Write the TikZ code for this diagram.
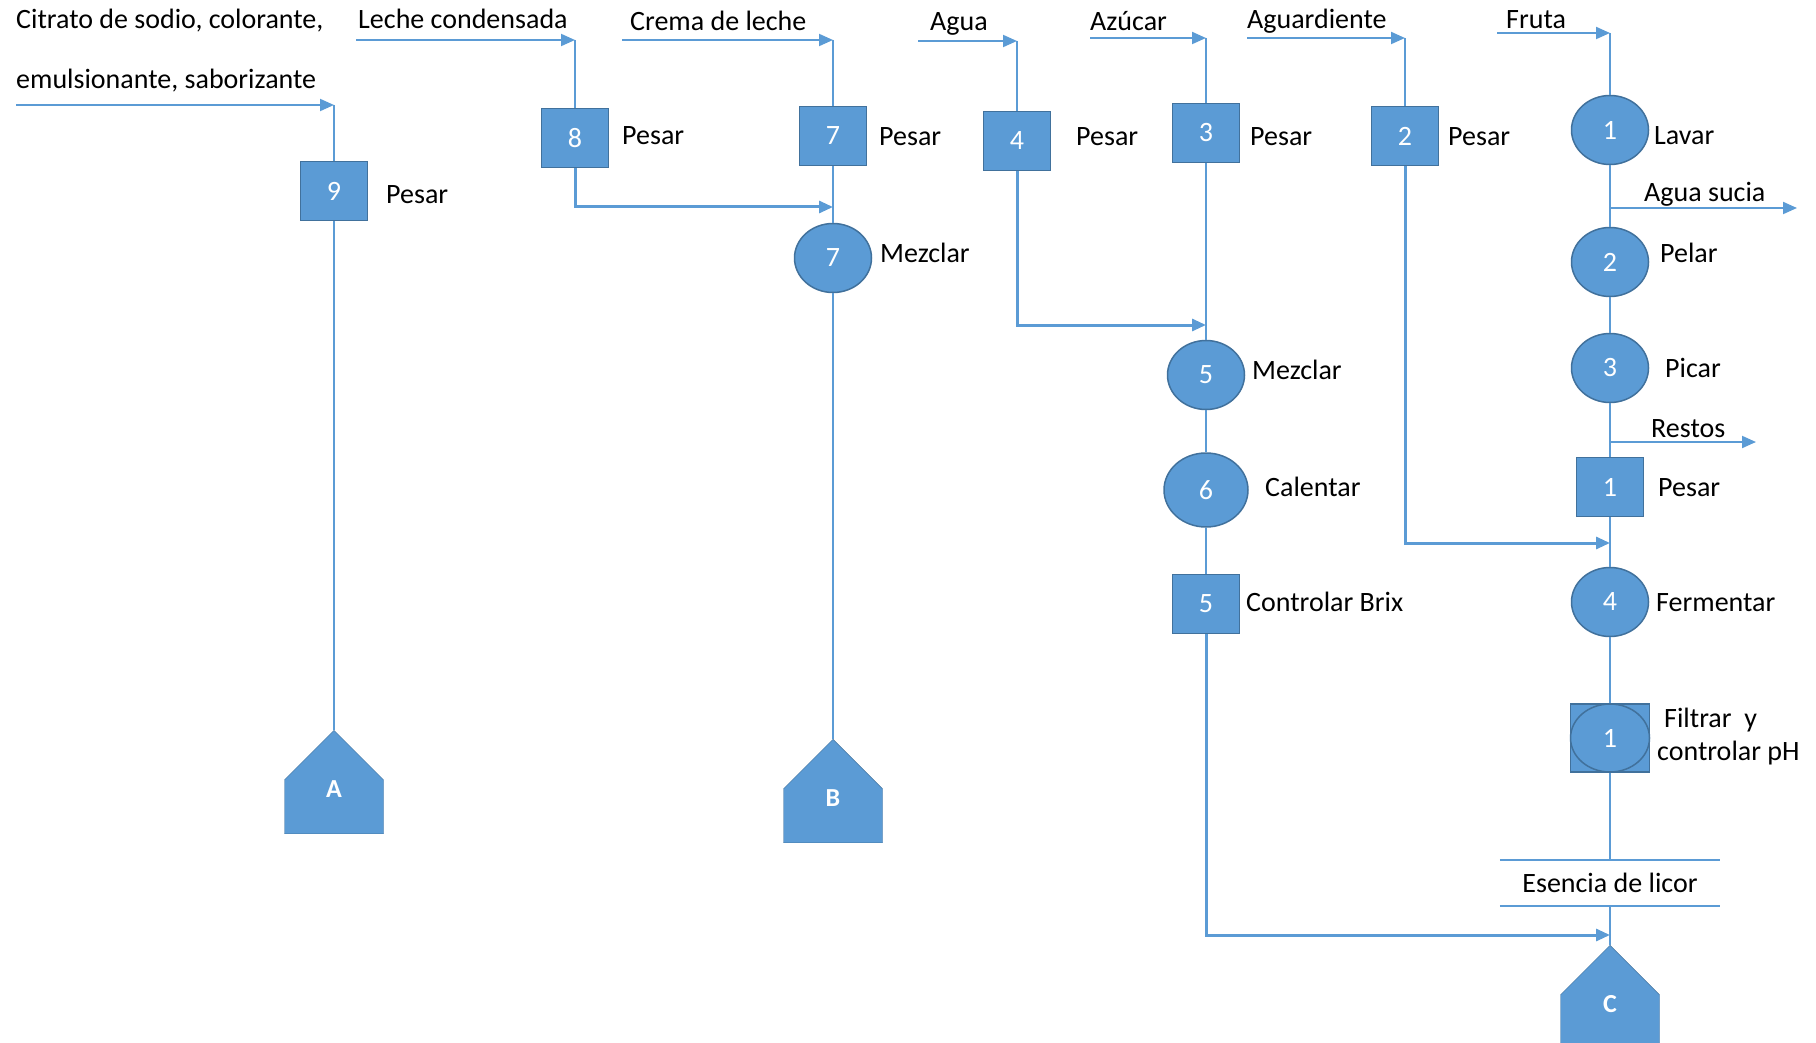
\documentclass[tikz,border=0pt]{standalone}
\usepackage{fontspec}
\setmainfont{Carlito}
\usetikzlibrary{arrows.meta,shapes.geometric,shapes.symbols}
\definecolor{azul}{HTML}{5B9BD5}
\definecolor{borde}{HTML}{41719C}
\tikzset{
  caja/.style={draw=borde, fill=azul, line width=1.5pt, text=white,
    minimum width=67pt, minimum height=59pt, inner sep=0pt},
  op/.style={ellipse, draw=borde, fill=azul, line width=1.5pt, text=white,
    minimum width=77pt, minimum height=69pt, inner sep=0pt},
  prod/.style={signal, signal to=north, signal from=nowhere, signal pointer angle=90,
    draw=borde, fill=azul, text=white, minimum width=99pt, minimum height=0pt,
    inner sep=0pt, text height=18pt, text depth=36pt,
    font=\fontsize{26}{30}\selectfont\bfseries},
  txt/.style={anchor=west, inner sep=0pt, text height=18pt, text depth=0pt},
  linea/.style={draw=azul, line width=2pt},
  entrada/.style={draw=azul, line width=2pt, -{Triangle[length=14pt,width=12pt]}},
  flecha/.style={draw=azul, line width=3pt, -{Triangle[length=14pt,width=12pt]}},
}
\begin{document}
\begin{tikzpicture}[x=1pt, y=-1pt, font=\fontsize{28}{33}\selectfont]
\useasboundingbox (0,0) rectangle (1816,1043);
% operaciones
\node[caja] (p9) at (334,191) {9};
\node[caja] (p8) at (575,138) {8};
\node[caja] (p7) at (833,136) {7};
\node[op] (m7) at (833,258) {7};
\node[caja] (p4) at (1017,141) {4};
\node[caja] (p3) at (1206,133) {3};
\node[op] (m5) at (1206,375) {5};
\node[op, minimum width=84pt, minimum height=74pt] (c6) at (1206,490) {6};
\node[caja] (p5) at (1206,604) {5};
\node[caja] (p2) at (1405,136) {2};
\node[op] (o1) at (1610,130) {1};
\node[op] (o2) at (1610,262) {2};
\node[op] (o3) at (1610,368) {3};
\node[caja] (p1) at (1610,487) {1};
\node[op] (o4) at (1610,602) {4};
\node[caja, minimum width=79pt, minimum height=68pt] (f1) at (1610,738) {};
\node[op, minimum width=79pt, minimum height=68pt] (f1c) at (f1) {1};
\node[inner sep=0pt, minimum width=220pt, minimum height=45pt] (es) at (1610,883) {Esencia de licor};
\node[prod, anchor=north] (A) at (334,730) {A};
\node[prod, anchor=north] (B) at (833,739) {B};
\node[prod, anchor=north] (C) at (1610,945) {C};
% entradas
\coordinate (s9) at (16,105);   \coordinate (k9) at (334,105);
\coordinate (s8) at (356,40);   \coordinate (k8) at (575,40);
\coordinate (s7) at (622,40);   \coordinate (k7) at (833,40);
\coordinate (s4) at (918,41);   \coordinate (k4) at (1017,41);
\coordinate (s3) at (1090,38);  \coordinate (k3) at (1206,38);
\coordinate (s2) at (1247,38);  \coordinate (k2) at (1405,38);
\coordinate (sF) at (1497,33);  \coordinate (kF) at (1610,33);
\coordinate (j7) at (833,207);
\coordinate (j5) at (1206,325);
\coordinate (jF) at (1610,543);
\coordinate (jC) at (1610,935);
\coordinate (e1) at (1610,208); \coordinate (x1) at (1797,208);
\coordinate (e2) at (1610,442); \coordinate (x2) at (1756,442);
\node[txt] (t9a) at (16,20) {Citrato de sodio, colorante,};
\node[txt] (t9b) at (16,80) {emulsionante, saborizante};
\node[txt] (t8) at (358,20) {Leche condensada};
\node[txt] (t7) at (630,22) {Crema de leche};
\node[txt] (t4) at (930,22) {Agua};
\node[txt] (t3) at (1090,22) {Azúcar};
\node[txt] (t2) at (1247,20) {Aguardiente};
\node[txt] (tF) at (1506,20) {Fruta};
% etiquetas
\node[txt] (l9) at (386,195) {Pesar};
\node[txt] (l8) at (622,136) {Pesar};
\node[txt] (l7) at (879,137) {Pesar};
\node[txt] (lm7) at (880,253) {Mezclar};
\node[txt] (l4) at (1076,137) {Pesar};
\node[txt] (l3) at (1250,137) {Pesar};
\node[txt] (l2) at (1448,137) {Pesar};
\node[txt] (lo1) at (1654,136) {Lavar};
\node[txt] (ls) at (1644,193) {Agua sucia};
\node[txt] (lo2) at (1660,253) {Pelar};
\node[txt] (lm5) at (1252,370) {Mezclar};
\node[txt] (lo3) at (1665,368) {Picar};
\node[txt] (lr) at (1651,428) {Restos};
\node[txt] (lc6) at (1265,487) {Calentar};
\node[txt] (lp1) at (1658,487) {Pesar};
\node[txt] (lp5) at (1246,602) {Controlar Brix};
\node[txt] (lo4) at (1656,602) {Fermentar};
\node[anchor=west, inner sep=0pt, align=left] (lf1) at (1657,737) {\hspace{7pt}Filtrar\ \ y\\controlar pH};
% conexiones
\draw[entrada] (s9) -- (k9);
\draw[entrada] (s8) -- (k8);
\draw[entrada] (s7) -- (k7);
\draw[entrada] (s4) -- (k4);
\draw[entrada] (s3) -- (k3);
\draw[entrada] (s2) -- (k2);
\draw[entrada] (sF) -- (kF);
\draw[linea] (k9) -- (p9) -- (A.north);
\draw[linea] (k8) -- (p8);
\draw[linea] (k7) -- (p7) -- (m7) -- (B.north);
\draw[linea] (k4) -- (p4);
\draw[linea] (k3) -- (p3) -- (m5) -- (c6) -- (p5);
\draw[linea] (k2) -- (p2);
\draw[linea] (kF) -- (o1) -- (o2) -- (o3) -- (p1) -- (o4) -- (f1) -- (es.north);
\draw[linea] (es.south) -- (C.north);
\draw[linea] (es.north west) -- (es.north east);
\draw[linea] (es.south west) -- (es.south east);
\draw[flecha] (p8) |- (j7);
\draw[flecha] (p4) |- (j5);
\draw[flecha] (p2) |- (jF);
\draw[flecha] (p5) |- (jC);
\draw[entrada] (e1) -- (x1);
\draw[entrada] (e2) -- (x2);
\end{tikzpicture}
\end{document}
